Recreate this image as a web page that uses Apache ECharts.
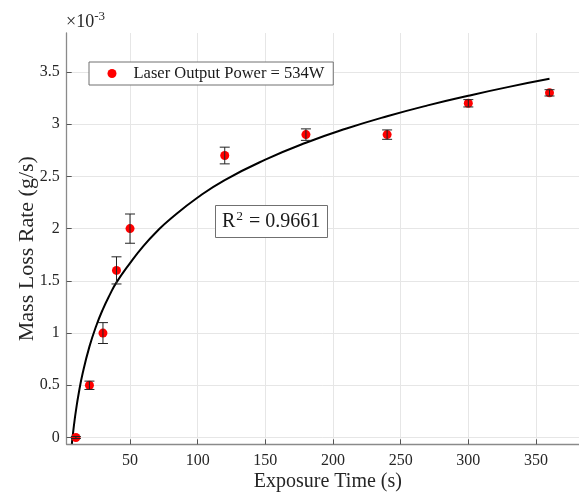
<!DOCTYPE html>
<html>
<head>
<meta charset="utf-8">
<script src="https://cdn.jsdelivr.net/npm/echarts@6/dist/echarts.min.js"></script>
<style>
html,body{margin:0;padding:0;background:#fff;}
#chart{width:579px;height:492px;}
</style>
</head>
<body>
<div id="chart"></div>
<script>
// Measured data (mass loss rate in units of 1e-3 g/s)
const exposureTimes = [10, 20, 30, 40, 50, 120, 180, 240, 300, 360];
const massLossRates = [0, 0.5, 1.0, 1.6, 2.0, 2.7, 2.9, 2.9, 3.2, 3.3];
const errorHalf =     [0.01, 0.04, 0.1, 0.13, 0.14, 0.08, 0.055, 0.045, 0.035, 0.03];
// Fitted curve
const fitTimes = [7, 8, 9, 10, 12, 15, 20, 25, 30, 35, 40, 50, 60, 70, 80, 100, 120, 150, 180, 210, 240, 270, 300, 330, 360];
const fitRates = [-0.061, 0.057, 0.162, 0.255, 0.417, 0.615, 0.87, 1.068, 1.23, 1.366, 1.485, 1.67, 1.835, 1.975, 2.095, 2.298, 2.465, 2.66, 2.822, 2.958, 3.076, 3.18, 3.272, 3.357, 3.434];
const xTicks = [50, 100, 150, 200, 250, 300, 350];
const yTicks = [0, 0.5, 1, 1.5, 2, 2.5, 3, 3.5];
const legendLabel = 'Laser Output Power = 534W';
const rSquared = '0.9661';

const FONT = 'Liberation Serif';
const chart = echarts.init(document.getElementById('chart'), null, {renderer: 'canvas'});

const scatterData = exposureTimes.map((t, i) => [t, massLossRates[i]]);
const errData = exposureTimes.map((t, i) => [t, massLossRates[i] - errorHalf[i], massLossRates[i] + errorHalf[i]]);
const fitData = fitTimes.map((t, i) => [t, fitRates[i]]);

const option = {
  animation: false,
  backgroundColor: '#ffffff',
  grid: {left: 66.7, right: 0, top: 33, bottom: 47.7, containLabel: false, outerBoundsMode: 'none'},
  title: [
    {
      text: '{b|×10}{s|-3}',
      left: 66, top: 11,
      padding: 0,
      textStyle: {
        fontWeight: 'normal',
        rich: {
          b: {fontFamily: FONT, fontSize: 18, fontWeight: 'normal', color: '#262626', lineHeight: 22},
          s: {fontFamily: FONT, fontSize: 13, fontWeight: 'normal', color: '#262626', lineHeight: 22, padding: [0, 0, 10, 0]}
        }
      }
    },
    {
      text: '{b|R}{s|2}{b| = ' + rSquared + '}',
      left: 215, top: 206,
      padding: [4, 7, 3, 7],
      borderColor: '#707070', borderWidth: 1,
      backgroundColor: '#ffffff',
      textStyle: {
        fontWeight: 'normal',
        rich: {
          b: {fontFamily: FONT, fontSize: 20, fontWeight: 'normal', color: '#1a1a1a', lineHeight: 24},
          s: {fontFamily: FONT, fontSize: 13.5, fontWeight: 'normal', color: '#1a1a1a', lineHeight: 24, padding: [0, 1, 12, 1]}
        }
      }
    }
  ],
  legend: {
    data: [legendLabel],
    left: 89, top: 62,
    orient: 'horizontal',
    padding: [3, 9, 3, 18.5],
    itemWidth: 33, itemHeight: 9, itemGap: 0,
    icon: 'circle',
    borderColor: '#707070', borderWidth: 1,
    backgroundColor: '#ffffff',
    textStyle: {fontFamily: FONT, fontSize: 16.5, color: '#1a1a1a', lineHeight: 17}
  },
  xAxis: {
    type: 'value',
    min: 3.2, max: 381.8,
    name: 'Exposure Time (s)',
    nameLocation: 'middle',
    nameGap: 27,
    nameMoveOverlap: false,
    nameTextStyle: {fontFamily: FONT, fontSize: 20, color: '#262626', padding: [0, 0, 0, 10]},
    axisLine: {show: true, onZero: false, lineStyle: {color: '#8a8a8a', width: 1.3}},
    axisTick: {show: true, inside: true, length: 5, customValues: xTicks, lineStyle: {color: '#555', width: 1}},
    axisLabel: {customValues: xTicks, fontFamily: FONT, fontSize: 16, color: '#262626', margin: 8},
    splitLine: {show: true, lineStyle: {color: '#e6e6e6', width: 1}}
  },
  yAxis: {
    type: 'value',
    min: -0.065, max: 3.873,
    name: 'Mass Loss Rate (g/s)',
    nameLocation: 'middle',
    nameGap: 28,
    nameMoveOverlap: false,
    nameRotate: 90,
    nameTextStyle: {fontFamily: FONT, fontSize: 22, color: '#262626', padding: [0, 20, 0, 0]},
    axisLine: {show: true, onZero: false, lineStyle: {color: '#8a8a8a', width: 1.3}},
    axisTick: {show: true, inside: true, length: 5, customValues: yTicks, lineStyle: {color: '#555', width: 1}},
    axisLabel: {customValues: yTicks, fontFamily: FONT, fontSize: 16, color: '#262626', margin: 7,
      formatter: v => String(Math.round(v * 10) / 10)},
    splitLine: {show: true, lineStyle: {color: '#e6e6e6', width: 1}}
  },
  series: [
    {
      name: 'fit',
      type: 'line',
      data: fitData,
      smooth: true,
      showSymbol: false,
      symbol: 'none',
      clip: true,
      lineStyle: {color: '#000000', width: 2},
      z: 3,
      silent: true
    },
    {
      name: legendLabel,
      type: 'scatter',
      data: scatterData,
      symbol: 'circle',
      symbolSize: 9,
      itemStyle: {color: '#ff0000', opacity: 1},
      z: 4
    },
    {
      name: 'err',
      type: 'custom',
      data: errData,
      z: 5,
      silent: true,
      renderItem: function (params, api) {
        const x = api.value(0);
        const lo = api.coord([x, api.value(1)]);
        const hi = api.coord([x, api.value(2)]);
        const w = 5;
        const st = {stroke: '#222', lineWidth: 1};
        return {
          type: 'group',
          children: [
            {type: 'line', shape: {x1: lo[0], y1: lo[1], x2: hi[0], y2: hi[1]}, style: st},
            {type: 'line', shape: {x1: lo[0] - w, y1: lo[1], x2: lo[0] + w, y2: lo[1]}, style: st},
            {type: 'line', shape: {x1: hi[0] - w, y1: hi[1], x2: hi[0] + w, y2: hi[1]}, style: st}
          ]
        };
      }
    }
  ]
};
chart.setOption(option);
</script>
</body>
</html>
